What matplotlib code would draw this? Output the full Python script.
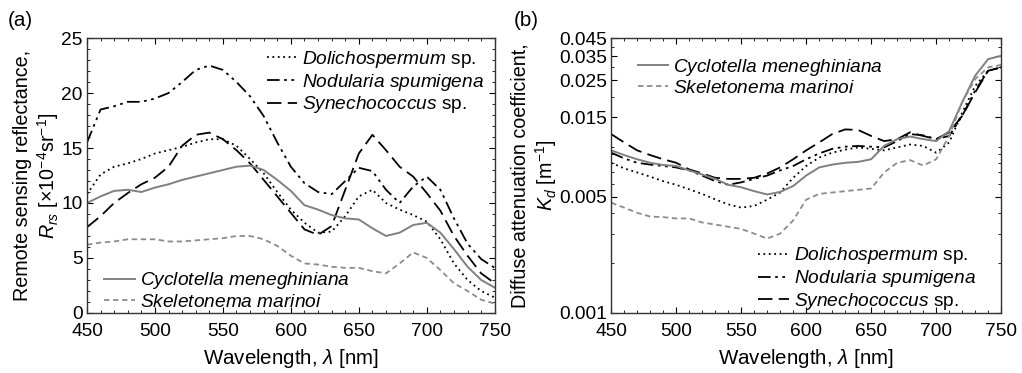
import numpy as np
import matplotlib
matplotlib.use("Agg")
import matplotlib.pyplot as plt
from matplotlib.ticker import MultipleLocator, LogLocator, NullFormatter, FixedLocator

plt.rcParams['font.family'] = ['Liberation Sans', 'DejaVu Sans']
plt.rcParams['mathtext.fontset'] = 'custom'
plt.rcParams['mathtext.rm'] = 'Liberation Sans'
plt.rcParams['mathtext.it'] = 'Liberation Sans:italic'
plt.rcParams['mathtext.default'] = 'regular'

# ---- panel (a): remote sensing reflectance [x1e-4 sr-1]
wl = [450, 460, 470, 480, 490, 500, 510, 520, 530, 540, 550, 560, 570, 580, 590,
      600, 610, 620, 630, 640, 650, 660, 670, 680, 690, 700, 710, 720, 730, 740, 750]

rrs_doli = [10.8, 12.6, 13.3, 13.6, 14.0, 14.5, 14.8, 15.1, 15.5, 15.8, 15.8, 15.2, 14.0, 12.7, 11.0,
            9.4, 8.2, 7.3, 7.4, 8.8, 10.6, 11.2, 10.0, 9.4, 8.9, 8.3, 6.7, 4.5, 3.0, 2.0, 1.4]
rrs_nodu = [15.5, 18.5, 18.8, 19.2, 19.2, 19.5, 20.0, 21.0, 22.1, 22.5, 22.1, 21.0, 19.7, 17.9, 15.5,
            13.3, 11.8, 11.0, 10.8, 12.0, 13.2, 12.9, 11.2, 10.0, 11.5, 12.4, 11.2, 8.6, 6.3, 4.9, 4.1]
rrs_syne = [7.8, 8.8, 10.0, 10.9, 11.7, 12.3, 13.3, 15.2, 16.2, 16.4, 15.8, 14.8, 13.6, 12.1, 10.6,
            9.1, 7.6, 7.1, 7.9, 11.2, 14.5, 16.2, 14.8, 13.3, 12.4, 10.9, 9.3, 7.0, 5.2, 3.6, 2.7]
rrs_cycl = [10.0, 10.6, 11.1, 11.2, 11.0, 11.4, 11.7, 12.1, 12.4, 12.7, 13.0, 13.3, 13.4, 13.0, 12.1,
            11.1, 9.8, 9.4, 8.9, 8.6, 8.5, 7.7, 7.0, 7.3, 8.0, 8.2, 7.3, 5.8, 4.2, 3.0, 2.3]
rrs_skel = [6.2, 6.4, 6.5, 6.7, 6.7, 6.7, 6.5, 6.5, 6.6, 6.7, 6.8, 7.0, 7.0, 6.7, 6.1,
            5.2, 4.5, 4.4, 4.2, 4.1, 4.1, 3.8, 3.6, 4.5, 5.5, 5.0, 3.9, 2.7, 2.0, 1.2, 0.85]

# ---- panel (b): diffuse attenuation coefficient Kd [m-1]
wl2 = [450, 460, 470, 480, 490, 500, 510, 520, 530, 540, 550, 560, 570, 580, 590,
       600, 610, 620, 630, 640, 650, 660, 670, 680, 690, 700, 710, 720, 730, 740, 750]

kd_doli = [0.0080, 0.0074, 0.0070, 0.0066, 0.0062, 0.0059, 0.00554, 0.0052, 0.00482, 0.0045, 0.0043,
           0.0044, 0.0048, 0.0053, 0.0065, 0.00765, 0.0086, 0.0092, 0.0096, 0.0099, 0.0097, 0.0095,
           0.0099, 0.0103, 0.0101, 0.0092, 0.0106, 0.0160, 0.0232, 0.0286, 0.0300]
kd_nodu = [0.0092, 0.0085, 0.0080, 0.0078, 0.00765, 0.0075, 0.0072, 0.0067, 0.0062, 0.0059, 0.0061,
           0.0064, 0.0067, 0.0072, 0.00765, 0.0084, 0.0091, 0.0097, 0.0100, 0.0101, 0.0100, 0.0099,
           0.0108, 0.0119, 0.0117, 0.0111, 0.0116, 0.0153, 0.0217, 0.0286, 0.0300]
kd_syne = [0.0119, 0.0106, 0.0095, 0.0089, 0.0084, 0.0080, 0.0073, 0.0069, 0.0065, 0.0064, 0.0064,
           0.0065, 0.0069, 0.0075, 0.0084, 0.0095, 0.0106, 0.0119, 0.0127, 0.0126, 0.0116, 0.0108,
           0.0111, 0.0122, 0.0116, 0.0111, 0.0122, 0.0153, 0.0212, 0.0286, 0.0300]
kd_cycl = [0.0095, 0.0089, 0.0084, 0.0080, 0.00776, 0.00765, 0.0072, 0.0068, 0.0064, 0.0059, 0.0057,
           0.0054, 0.00516, 0.00534, 0.0058, 0.0067, 0.0075, 0.0078, 0.0080, 0.0081, 0.0084, 0.0101,
           0.0111, 0.0115, 0.0111, 0.0108, 0.0124, 0.0185, 0.0267, 0.0336, 0.0352]
kd_skel = [0.0046, 0.0043, 0.0040, 0.0038, 0.00377, 0.0037, 0.0037, 0.0035, 0.0034, 0.0033, 0.0032,
           0.0030, 0.0028, 0.0030, 0.0036, 0.0048, 0.0052, 0.0053, 0.0054, 0.0055, 0.0056, 0.0070,
           0.0080, 0.0083, 0.0077, 0.0084, 0.0116, 0.0185, 0.0255, 0.0300, 0.0310]
kd_ticks = [0.001, 0.005, 0.015, 0.025, 0.035, 0.045]

names = [r'$\mathit{Dolichospermum}$ sp.', r'$\mathit{Nodularia\ spumigena}$',
         r'$\mathit{Synechococcus}$ sp.', r'$\mathit{Cyclotella\ meneghiniana}$',
         r'$\mathit{Skeletonema\ marinoi}$']

styles = [dict(color='black', lw=1.3, ls=(0, (1, 2))),
          dict(color='black', lw=1.3, ls=(0, (7, 2.5, 1.5, 2.5, 1.5, 2.5))),
          dict(color='black', lw=1.3, ls=(0, (8, 3.5))),
          dict(color='#808080', lw=1.4, ls='-'),
          dict(color='#8c8c8c', lw=1.3, ls=(0, (3, 2)))]

fig = plt.figure(figsize=(10.22, 3.73), dpi=100)
ax1 = fig.add_axes([0.0851, 0.161, 0.399, 0.737])
ax2 = fig.add_axes([0.598, 0.161, 0.3816, 0.737])

fs = 13.8
lfs = 13.8
labfs = 14.8
legkw = dict(fontsize=lfs, frameon=False, handlelength=1.6, handletextpad=0.25,
             labelspacing=0.1)

for ax in (ax1, ax2):
    ax.tick_params(which='both', direction='in', top=True, right=True, labelsize=fs)
    ax.tick_params(axis='x', pad=7)
    ax.tick_params(axis='y', pad=3)
    ax.tick_params(which='major', length=4)
    ax.tick_params(which='minor', length=2)
    for s in ax.spines.values():
        s.set_linewidth(1.0)
        s.set_color('#333333')
    ax.set_xlim(450, 750)
    ax.xaxis.set_major_locator(MultipleLocator(50))
    ax.xaxis.set_minor_locator(MultipleLocator(10))
    ax.set_xlabel(r'Wavelength, $\mathit{\lambda}$ [nm]', fontsize=labfs, labelpad=5)

# panel (a)
la = []
for y, st in zip([rrs_doli, rrs_nodu, rrs_syne, rrs_cycl, rrs_skel], styles):
    la.append(ax1.plot(wl, y, **st)[0])
ax1.set_ylim(0, 25)
ax1.yaxis.set_major_locator(MultipleLocator(5))
ax1.yaxis.set_minor_locator(MultipleLocator(1))
ax1.set_ylabel('Remote sensing reflectance,\n' + r'$\mathit{R_{rs}}$ [×10$^{-4}$sr$^{-1}$]',
               fontsize=14.2, linespacing=1.2, labelpad=0)
leg1 = ax1.legend(la[:3], names[:3], loc='upper right', borderaxespad=0.15, **legkw)
ax1.add_artist(leg1)
ax1.legend(la[3:], names[3:], loc='lower left', bbox_to_anchor=(0.0, -0.055), **legkw)

# panel (b)
lb = []
for y, st in zip([kd_doli, kd_nodu, kd_syne, kd_cycl, kd_skel], styles):
    lb.append(ax2.plot(wl2, y, **st)[0])
ax2.set_yscale('log')
ax2.set_ylim(0.001, 0.045)
ax2.yaxis.set_major_locator(FixedLocator(kd_ticks))
ax2.set_yticklabels([str(t) for t in kd_ticks])
ax2.yaxis.set_minor_locator(LogLocator(base=10, subs=np.arange(1, 10)))
ax2.yaxis.set_minor_formatter(NullFormatter())
ax2.set_ylabel('Diffuse attenuation coefficient,\n' + r'$\mathit{K_d}$ [m$^{-1}$]',
               fontsize=14.2, linespacing=1.2, labelpad=0)
leg2 = ax2.legend(lb[3:], names[3:], loc='upper left', bbox_to_anchor=(0.024, 0.995), **legkw)
ax2.add_artist(leg2)
ax2.legend(lb[:3], names[:3], loc='lower right', bbox_to_anchor=(0.979, -0.06), **legkw)

fig.text(0.008, 0.93, '(a)', fontsize=labfs)
fig.text(0.503, 0.93, '(b)', fontsize=labfs)

fig.savefig('out.png', dpi=100)
